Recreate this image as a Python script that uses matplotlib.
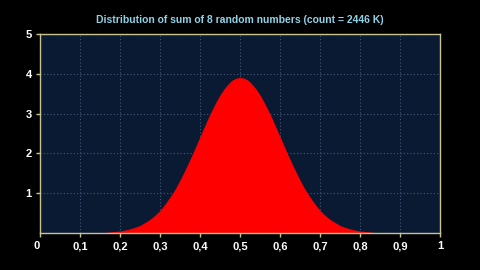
import numpy as np
import matplotlib.pyplot as plt

# histogram of the mean of 8 uniform numbers, heights read at 0.01 steps
x_start = 0.14
x_step = 0.01
heights = [0.00, 0.01, 0.01, 0.02, 0.03, 0.04, 0.05, 0.07, 0.09, 0.12,
           0.15, 0.19, 0.25, 0.31, 0.38, 0.47, 0.57, 0.69, 0.83, 0.98,
           1.14, 1.33, 1.53, 1.74, 1.96, 2.19, 2.42, 2.65, 2.88, 3.09,
           3.29, 3.47, 3.62, 3.74, 3.84, 3.89, 3.91, 3.89, 3.84, 3.74,
           3.62, 3.47, 3.29, 3.09, 2.88, 2.65, 2.42, 2.19, 1.96, 1.74,
           1.53, 1.33, 1.14, 0.98, 0.83, 0.69, 0.57, 0.47, 0.38, 0.31,
           0.25, 0.19, 0.15, 0.12, 0.09, 0.07, 0.05, 0.04, 0.03, 0.02,
           0.01, 0.01, 0.00]
xs = x_start + x_step * np.arange(len(heights))

x_ticks = [0, 0.1, 0.2, 0.3, 0.4, 0.5, 0.6, 0.7, 0.8, 0.9, 1]
x_labels = ['0', '0,1', '0,2', '0,3', '0,4', '0,5', '0,6', '0,7', '0,8', '0,9', '1']
y_ticks = [1, 2, 3, 4, 5]

fig = plt.figure(figsize=(4.8, 2.7), dpi=100, facecolor='black')
ax = fig.add_axes([0.0833, 0.137, 0.8334, 0.737])
ax.set_facecolor('#0b1a33')

ax.fill_between(xs, heights, color='#ff0000', lw=0, zorder=2)

ax.set_xlim(0, 1)
ax.set_ylim(0, 5)
ax.set_xticks(x_ticks)
ax.set_xticklabels(x_labels)
ax.set_yticks(y_ticks)

for s in ax.spines.values():
    s.set_color('#c8c490')
    s.set_linewidth(1.0)
ax.tick_params(colors='#c8c490', length=3, width=1, pad=3)
for lab in ax.get_xticklabels() + ax.get_yticklabels():
    lab.set_color('white')
    lab.set_fontweight('bold')
    lab.set_fontsize(8)
    lab.set_family('Liberation Sans')
ax.get_xticklabels()[0].set_ha('right')

ax.grid(True, color='#44597a', linestyle=(0, (1, 2)), linewidth=0.8, zorder=1)
ax.set_axisbelow(True)

fig.text(0.5, 0.925, 'Distribution of sum of 8 random numbers (count = 2446 K)',
         color='#8fd3e8', fontsize=7.5, fontweight='bold',
         family='Liberation Sans', ha='center', va='center')

fig.savefig('out.png', dpi=100, facecolor='black')
